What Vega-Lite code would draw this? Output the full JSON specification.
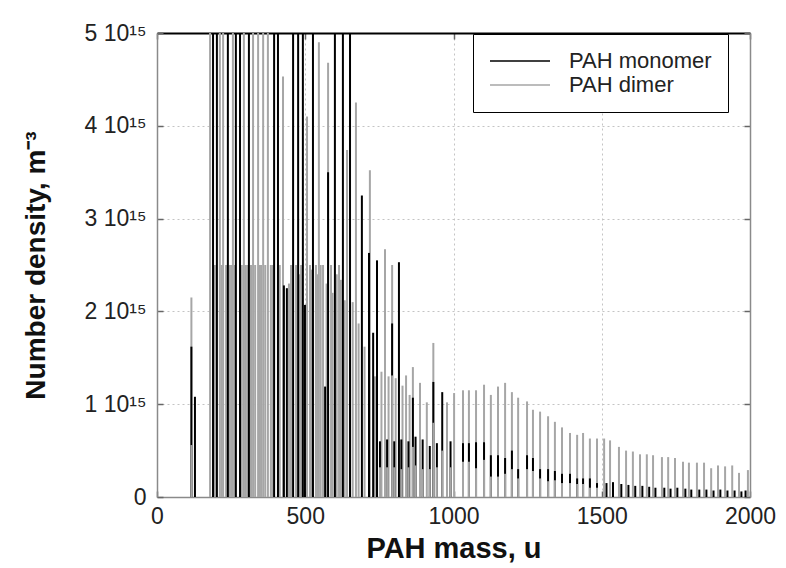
{
"$schema": "https://vega.github.io/schema/vega-lite/v6.json",
"width": 593, "height": 464,
"autosize": {"type": "none"},
"padding": {"left": 157, "top": 33, "right": 36, "bottom": 71},
"background": "white",
"config": {
 "view": {"stroke": null},
 "font": "Liberation Sans",
 "axis": {"labelFont": "Liberation Sans", "labelFontSize": 23, "labelColor": "#222", "titleFont": "Liberation Sans", "titleFontWeight": "bold", "titleFontSize": 28, "titleColor": "#111", "gridColor": "#c4c4c4", "gridDash": [2, 3], "gridWidth": 1, "domainColor": "#8a8a8a", "domainWidth": 1.5, "tickColor": "#666", "tickWidth": 1.5, "tickSize": -6}
},
"data": {"values": [
{"mass":116,"series":"PAH dimer","value":2.15e15},
{"mass":179,"series":"PAH dimer","value":6e15},
{"mass":212,"series":"PAH dimer","value":6e15},
{"mass":223,"series":"PAH dimer","value":6e15},
{"mass":256,"series":"PAH dimer","value":6e15},
{"mass":293,"series":"PAH dimer","value":6e15},
{"mass":324,"series":"PAH dimer","value":6e15},
{"mass":341,"series":"PAH dimer","value":6e15},
{"mass":358,"series":"PAH dimer","value":6e15},
{"mass":374,"series":"PAH dimer","value":6e15},
{"mass":425,"series":"PAH dimer","value":4.53e15},
{"mass":506,"series":"PAH dimer","value":4.1e15},
{"mass":546,"series":"PAH dimer","value":4.9e15},
{"mass":577,"series":"PAH dimer","value":4.68e15},
{"mass":641,"series":"PAH dimer","value":3.74e15},
{"mass":671,"series":"PAH dimer","value":4.25e15},
{"mass":718,"series":"PAH dimer","value":3.52e15},
{"mass":769,"series":"PAH dimer","value":2.67e15},
{"mass":793,"series":"PAH dimer","value":2.5e15},
{"mass":195,"series":"PAH dimer","value":2.5e15},
{"mass":218,"series":"PAH dimer","value":2.5e15},
{"mass":233,"series":"PAH dimer","value":2.5e15},
{"mass":245,"series":"PAH dimer","value":2.5e15},
{"mass":250,"series":"PAH dimer","value":2.5e15},
{"mass":262,"series":"PAH dimer","value":2.5e15},
{"mass":286,"series":"PAH dimer","value":2.5e15},
{"mass":298,"series":"PAH dimer","value":2.5e15},
{"mass":304,"series":"PAH dimer","value":2.5e15},
{"mass":317,"series":"PAH dimer","value":2.5e15},
{"mass":331,"series":"PAH dimer","value":2.5e15},
{"mass":346,"series":"PAH dimer","value":2.5e15},
{"mass":351,"series":"PAH dimer","value":2.5e15},
{"mass":365,"series":"PAH dimer","value":2.5e15},
{"mass":384,"series":"PAH dimer","value":2.5e15},
{"mass":390,"series":"PAH dimer","value":2.5e15},
{"mass":414,"series":"PAH dimer","value":2.5e15},
{"mass":445,"series":"PAH dimer","value":2.3e15},
{"mass":452,"series":"PAH dimer","value":2.5e15},
{"mass":469,"series":"PAH dimer","value":2.5e15},
{"mass":481,"series":"PAH dimer","value":2.4e15},
{"mass":486,"series":"PAH dimer","value":2.5e15},
{"mass":516,"series":"PAH dimer","value":2.5e15},
{"mass":521,"series":"PAH dimer","value":2.45e15},
{"mass":536,"series":"PAH dimer","value":2.5e15},
{"mass":541,"series":"PAH dimer","value":2.4e15},
{"mass":552,"series":"PAH dimer","value":2.5e15},
{"mass":560,"series":"PAH dimer","value":2.5e15},
{"mass":572,"series":"PAH dimer","value":2.3e15},
{"mass":587,"series":"PAH dimer","value":2.5e15},
{"mass":592,"series":"PAH dimer","value":2.2e15},
{"mass":606,"series":"PAH dimer","value":2.4e15},
{"mass":614,"series":"PAH dimer","value":2.5e15},
{"mass":620,"series":"PAH dimer","value":2.34e15},
{"mass":633,"series":"PAH dimer","value":2.12e15},
{"mass":660,"series":"PAH dimer","value":2.1e15},
{"mass":680,"series":"PAH dimer","value":1.87e15},
{"mass":700,"series":"PAH dimer","value":1.62e15},
{"mass":735,"series":"PAH dimer","value":1.3e15},
{"mass":757,"series":"PAH dimer","value":1.35e15},
{"mass":781,"series":"PAH dimer","value":1.3e15},
{"mass":805,"series":"PAH dimer","value":1.28e15},
{"mass":828,"series":"PAH dimer","value":1.2e15},
{"mass":840,"series":"PAH dimer","value":1.31e15},
{"mass":852,"series":"PAH dimer","value":1.1e15},
{"mass":863,"series":"PAH dimer","value":1.4e15},
{"mass":887,"series":"PAH dimer","value":1.23e15},
{"mass":910,"series":"PAH dimer","value":1.02e15},
{"mass":932,"series":"PAH dimer","value":1.66e15},
{"mass":978,"series":"PAH dimer","value":1.02e15},
{"mass":1002,"series":"PAH dimer","value":1.12e15},
{"mass":1032,"series":"PAH dimer","value":1.15e15},
{"mass":1052,"series":"PAH dimer","value":1.15e15},
{"mass":1076,"series":"PAH dimer","value":1.15e15},
{"mass":1103,"series":"PAH dimer","value":1.21e15},
{"mass":1126,"series":"PAH dimer","value":1.1e15},
{"mass":1150,"series":"PAH dimer","value":1.19e15},
{"mass":1174,"series":"PAH dimer","value":1.23e15},
{"mass":1197,"series":"PAH dimer","value":1.13e15},
{"mass":1218,"series":"PAH dimer","value":1.07e15},
{"mass":1248,"series":"PAH dimer","value":1.03e15},
{"mass":1268,"series":"PAH dimer","value":0.94e15},
{"mass":1292,"series":"PAH dimer","value":0.92e15},
{"mass":1319,"series":"PAH dimer","value":0.87e15},
{"mass":1342,"series":"PAH dimer","value":0.81e15},
{"mass":1366,"series":"PAH dimer","value":0.75e15},
{"mass":1393,"series":"PAH dimer","value":0.69e15},
{"mass":1417,"series":"PAH dimer","value":0.67e15},
{"mass":1437,"series":"PAH dimer","value":0.69e15},
{"mass":1460,"series":"PAH dimer","value":0.63e15},
{"mass":1484,"series":"PAH dimer","value":0.63e15},
{"mass":1508,"series":"PAH dimer","value":0.63e15},
{"mass":1528,"series":"PAH dimer","value":0.61e15},
{"mass":1558,"series":"PAH dimer","value":0.54e15},
{"mass":1582,"series":"PAH dimer","value":0.5e15},
{"mass":1605,"series":"PAH dimer","value":0.49e15},
{"mass":1629,"series":"PAH dimer","value":0.46e15},
{"mass":1652,"series":"PAH dimer","value":0.46e15},
{"mass":1673,"series":"PAH dimer","value":0.45e15},
{"mass":1703,"series":"PAH dimer","value":0.43e15},
{"mass":1724,"series":"PAH dimer","value":0.43e15},
{"mass":1747,"series":"PAH dimer","value":0.42e15},
{"mass":1774,"series":"PAH dimer","value":0.38e15},
{"mass":1794,"series":"PAH dimer","value":0.37e15},
{"mass":1821,"series":"PAH dimer","value":0.37e15},
{"mass":1845,"series":"PAH dimer","value":0.37e15},
{"mass":1869,"series":"PAH dimer","value":0.31e15},
{"mass":1892,"series":"PAH dimer","value":0.34e15},
{"mass":1916,"series":"PAH dimer","value":0.33e15},
{"mass":1940,"series":"PAH dimer","value":0.34e15},
{"mass":1963,"series":"PAH dimer","value":0.26e15},
{"mass":1993,"series":"PAH dimer","value":0.29e15},
{"mass":116,"series":"PAH monomer","value":1.62e15},
{"mass":128,"series":"PAH monomer","value":1.08e15},
{"mass":189,"series":"PAH monomer","value":6e15},
{"mass":202,"series":"PAH monomer","value":6e15},
{"mass":239,"series":"PAH monomer","value":6e15},
{"mass":266,"series":"PAH monomer","value":6e15},
{"mass":280,"series":"PAH monomer","value":6e15},
{"mass":310,"series":"PAH monomer","value":6e15},
{"mass":395,"series":"PAH monomer","value":6e15},
{"mass":408,"series":"PAH monomer","value":6e15},
{"mass":459,"series":"PAH monomer","value":6e15},
{"mass":476,"series":"PAH monomer","value":6e15},
{"mass":492,"series":"PAH monomer","value":6e15},
{"mass":526,"series":"PAH monomer","value":6e15},
{"mass":600,"series":"PAH monomer","value":6e15},
{"mass":627,"series":"PAH monomer","value":6e15},
{"mass":651,"series":"PAH monomer","value":6e15},
{"mass":428,"series":"PAH monomer","value":2.28e15},
{"mass":438,"series":"PAH monomer","value":2.25e15},
{"mass":499,"series":"PAH monomer","value":2.07e15},
{"mass":567,"series":"PAH monomer","value":1.19e15},
{"mass":577,"series":"PAH monomer","value":3.5e15},
{"mass":691,"series":"PAH monomer","value":3.25e15},
{"mass":715,"series":"PAH monomer","value":2.63e15},
{"mass":729,"series":"PAH monomer","value":1.77e15},
{"mass":742,"series":"PAH monomer","value":2.55e15},
{"mass":793,"series":"PAH monomer","value":1.87e15},
{"mass":816,"series":"PAH monomer","value":2.53e15},
{"mass":863,"series":"PAH monomer","value":1.07e15},
{"mass":932,"series":"PAH monomer","value":1.24e15},
{"mass":962,"series":"PAH monomer","value":1.13e15},
{"mass":752,"series":"PAH monomer","value":0.6e15},
{"mass":776,"series":"PAH monomer","value":0.62e15},
{"mass":800,"series":"PAH monomer","value":0.6e15},
{"mass":824,"series":"PAH monomer","value":0.62e15},
{"mass":848,"series":"PAH monomer","value":0.6e15},
{"mass":872,"series":"PAH monomer","value":0.65e15},
{"mass":896,"series":"PAH monomer","value":0.62e15},
{"mass":920,"series":"PAH monomer","value":0.55e15},
{"mass":944,"series":"PAH monomer","value":0.58e15},
{"mass":990,"series":"PAH monomer","value":0.6e15},
{"mass":1032,"series":"PAH monomer","value":0.58e15},
{"mass":1052,"series":"PAH monomer","value":0.58e15},
{"mass":1076,"series":"PAH monomer","value":0.59e15},
{"mass":1103,"series":"PAH monomer","value":0.59e15},
{"mass":1126,"series":"PAH monomer","value":0.45e15},
{"mass":1150,"series":"PAH monomer","value":0.45e15},
{"mass":1174,"series":"PAH monomer","value":0.42e15},
{"mass":1197,"series":"PAH monomer","value":0.5e15},
{"mass":1218,"series":"PAH monomer","value":0.3e15},
{"mass":1248,"series":"PAH monomer","value":0.45e15},
{"mass":1268,"series":"PAH monomer","value":0.42e15},
{"mass":1292,"series":"PAH monomer","value":0.3e15},
{"mass":1319,"series":"PAH monomer","value":0.3e15},
{"mass":1342,"series":"PAH monomer","value":0.28e15},
{"mass":1366,"series":"PAH monomer","value":0.25e15},
{"mass":1393,"series":"PAH monomer","value":0.25e15},
{"mass":1417,"series":"PAH monomer","value":0.2e15},
{"mass":1437,"series":"PAH monomer","value":0.2e15},
{"mass":1460,"series":"PAH monomer","value":0.2e15},
{"mass":1484,"series":"PAH monomer","value":0.15e15},
{"mass":1516,"series":"PAH monomer","value":0.15e15},
{"mass":1538,"series":"PAH monomer","value":0.16e15},
{"mass":1566,"series":"PAH monomer","value":0.14e15},
{"mass":1590,"series":"PAH monomer","value":0.13e15},
{"mass":1613,"series":"PAH monomer","value":0.12e15},
{"mass":1637,"series":"PAH monomer","value":0.12e15},
{"mass":1660,"series":"PAH monomer","value":0.11e15},
{"mass":1681,"series":"PAH monomer","value":0.1e15},
{"mass":1711,"series":"PAH monomer","value":0.1e15},
{"mass":1732,"series":"PAH monomer","value":0.09e15},
{"mass":1755,"series":"PAH monomer","value":0.1e15},
{"mass":1782,"series":"PAH monomer","value":0.09e15},
{"mass":1802,"series":"PAH monomer","value":0.08e15},
{"mass":1829,"series":"PAH monomer","value":0.08e15},
{"mass":1853,"series":"PAH monomer","value":0.08e15},
{"mass":1877,"series":"PAH monomer","value":0.07e15},
{"mass":1900,"series":"PAH monomer","value":0.08e15},
{"mass":1924,"series":"PAH monomer","value":0.07e15},
{"mass":1948,"series":"PAH monomer","value":0.07e15},
{"mass":1971,"series":"PAH monomer","value":0.06e15},
{"mass":1985,"series":"PAH monomer","value":0.07e15},
{"mass":116,"series":"PAH dimer","value":0.56e15},
{"mass":793,"series":"PAH dimer","value":1.31e15},
{"mass":863,"series":"PAH dimer","value":0.54e15},
{"mass":932,"series":"PAH dimer","value":0.8e15},
{"mass":962,"series":"PAH dimer","value":0.5e15},
{"mass":752,"series":"PAH dimer","value":0.32e15},
{"mass":776,"series":"PAH dimer","value":0.32e15},
{"mass":800,"series":"PAH dimer","value":0.32e15},
{"mass":824,"series":"PAH dimer","value":0.3e15},
{"mass":848,"series":"PAH dimer","value":0.32e15},
{"mass":872,"series":"PAH dimer","value":0.34e15},
{"mass":896,"series":"PAH dimer","value":0.3e15},
{"mass":920,"series":"PAH dimer","value":0.3e15},
{"mass":944,"series":"PAH dimer","value":0.32e15},
{"mass":990,"series":"PAH dimer","value":0.32e15},
{"mass":1032,"series":"PAH dimer","value":0.38e15},
{"mass":1052,"series":"PAH dimer","value":0.38e15},
{"mass":1076,"series":"PAH dimer","value":0.31e15},
{"mass":1103,"series":"PAH dimer","value":0.4e15},
{"mass":1126,"series":"PAH dimer","value":0.22e15},
{"mass":1150,"series":"PAH dimer","value":0.22e15},
{"mass":1174,"series":"PAH dimer","value":0.25e15},
{"mass":1197,"series":"PAH dimer","value":0.3e15},
{"mass":1218,"series":"PAH dimer","value":0.2e15},
{"mass":1248,"series":"PAH dimer","value":0.3e15},
{"mass":1268,"series":"PAH dimer","value":0.28e15},
{"mass":1292,"series":"PAH dimer","value":0.2e15},
{"mass":1319,"series":"PAH dimer","value":0.17e15},
{"mass":1342,"series":"PAH dimer","value":0.18e15},
{"mass":1366,"series":"PAH dimer","value":0.15e15},
{"mass":1393,"series":"PAH dimer","value":0.15e15},
{"mass":1417,"series":"PAH dimer","value":0.14e15},
{"mass":1437,"series":"PAH dimer","value":0.14e15},
{"mass":1460,"series":"PAH dimer","value":0.1e15},
{"mass":1484,"series":"PAH dimer","value":0.1e15}
]},
"layer": [
 {
  "mark": {"type": "rule", "strokeWidth": 2, "clip": true},
  "encoding": {
   "x": {"field": "mass", "type": "quantitative", "scale": {"domain": [0, 2000], "nice": false},
         "axis": {"orient": "bottom", "values": [0, 500, 1000, 1500, 2000], "format": "d", "title": "PAH mass, u", "titleFontSize": 29, "labelPadding": 14, "titlePadding": 6, "grid": true, "labelFlush": false}},
   "y": {"field": "value", "type": "quantitative", "scale": {"domain": [0, 5e15], "nice": false},
         "axis": {"orient": "left", "values": [0, 1e15, 2e15, 3e15, 4e15, 5e15], "labelExpr": "datum.value == 0 ? '0' : format(datum.value / 1e15, 'd') + ' 10¹⁵'", "title": "Number density, m⁻³", "grid": true, "labelPadding": 17, "titlePadding": 34}},
   "y2": {"datum": 0},
   "color": {"field": "series", "type": "nominal",
             "scale": {"domain": ["PAH monomer", "PAH dimer"], "range": ["#000000", "#a6a6a6"]},
             "legend": {"orient": "none", "legendX": 316, "legendY": 1, "title": null, "symbolType": "M-1,0H5", "symbolSize": 400, "symbolStrokeWidth": 1.5, "labelFont": "Liberation Sans", "labelFontSize": 22, "labelOffset": 58, "padding": 16, "rowPadding": 2, "strokeColor": "#000", "fillColor": "#fff", "labelColor": "#222"}}
  }
 },
 {
  "data": {"values": []},
  "mark": {"type": "rule"},
  "encoding": {
   "x": {"field": "mass", "type": "quantitative", "scale": {"domain": [0, 2000], "nice": false},
         "axis": {"orient": "top", "labels": false, "title": null, "grid": false, "domainColor": "#000", "domainWidth": 2, "values": [0, 500, 1000, 1500, 2000]}},
   "y": {"field": "value", "type": "quantitative", "scale": {"domain": [0, 5e15], "nice": false},
         "axis": {"orient": "right", "labels": false, "title": null, "grid": false, "values": [0, 1e15, 2e15, 3e15, 4e15, 5e15]}}
  }
 }
],
"resolve": {"axis": {"x": "independent", "y": "independent"}}
}
